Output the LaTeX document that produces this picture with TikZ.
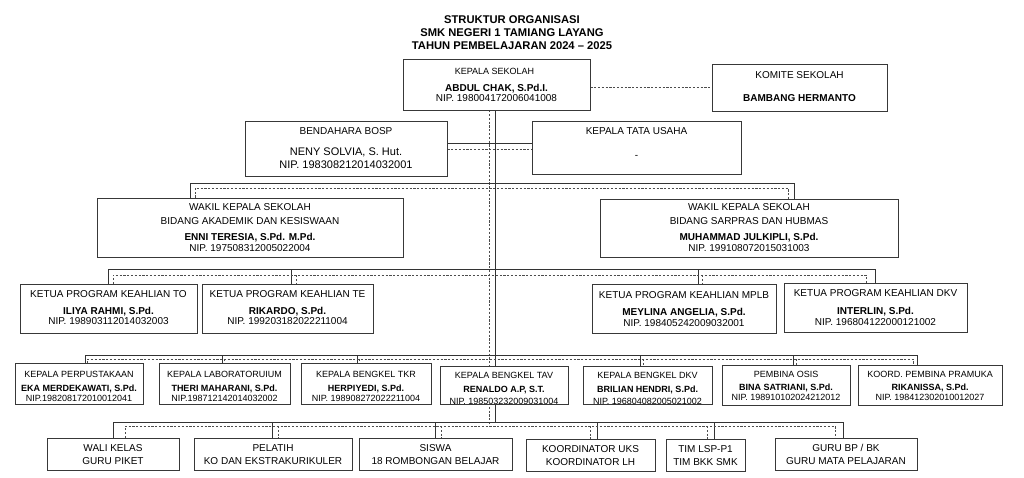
\documentclass[tikz,border=0pt]{standalone}
\usepackage{fontspec}
\setmainfont{Liberation Sans}
\usetikzlibrary{backgrounds}
\begin{document}
\begin{tikzpicture}[x=1pt,y=-1pt,
  box/.style={draw=black!78, line width=0.6pt, fill=white, inner sep=0pt},
  tA/.style={inner sep=0pt, anchor=center, font=\fontsize{9}{10}\selectfont, text height=6.4pt, text depth=0pt},
  tAb/.style={tA, font=\fontsize{9}{10}\selectfont\bfseries},
  tB/.style={inner sep=0pt, anchor=center, font=\fontsize{10}{11}\selectfont, text height=7.2pt, text depth=0pt},
  tBb/.style={tB, font=\fontsize{10}{11}\selectfont\bfseries},
  tC/.style={inner sep=0pt, anchor=center, font=\fontsize{11}{12}\selectfont, text height=7.9pt, text depth=0pt},
  ttl/.style={inner sep=0pt, anchor=center, font=\fontsize{11.2}{12}\selectfont\bfseries, text height=8pt, text depth=0pt},
  sol/.style={draw=black!80, line width=0.6pt},
  dsh/.style={draw=black!70, line width=0.55pt, dash pattern=on 2.2pt off 1.6pt}]
\useasboundingbox (0,0) rectangle (1024,478);

% title
\node[ttl] (ti1) at (512,20) {STRUKTUR ORGANISASI};
\node[ttl] (ti2) at (512,33) {SMK NEGERI 1 TAMIANG LAYANG};
\node[ttl] (ti3) at (512,46) {TAHUN PEMBELAJARAN 2024 – 2025};

% level 1
\node[box, minimum width=187pt, minimum height=51pt] (ks) at (496.5,84.5) {};
\node[tA] (ks1) at (494.5,71) {KEPALA SEKOLAH};
\node[tBb] (ks2) at (496.5,88) {ABDUL CHAK, S.Pd.I.};
\node[tB] (ks3) at (496.5,98) {NIP. 198004172006041008};

\node[box, minimum width=175pt, minimum height=47pt] (kom) at (799.5,87.5) {};
\node[tB] (kom1) at (799.5,75) {KOMITE SEKOLAH};
\node[tBb] (kom2) at (799.5,98) {BAMBANG HERMANTO};

% level 2
\node[box, minimum width=202pt, minimum height=55pt] (ben) at (346,148.5) {};
\node[tB] (ben1) at (346,131) {BENDAHARA BOSP};
\node[tC] (ben2) at (346,152) {NENY SOLVIA, S. Hut.};
\node[tC] (ben3) at (346,165) {NIP. 198308212014032001};

\node[box, minimum width=209pt, minimum height=53pt] (ktu) at (636.5,147.5) {};
\node[tB] (ktu1) at (636.5,131) {KEPALA TATA USAHA};
\node[tB] (ktu2) at (636.5,155) {-};

% level 3
\node[box, minimum width=306pt, minimum height=59pt] (wa) at (250,227.5) {};
\node[tB] (wa1) at (250,207) {WAKIL KEPALA SEKOLAH};
\node[tB] (wa2) at (250,221) {BIDANG AKADEMIK DAN KESISWAAN};
\node[tBb] (wa3) at (250,237) {ENNI TERESIA, S.Pd. M.Pd.};
\node[tB] (wa4) at (250,248) {NIP. 197508312005022004};

\node[box, minimum width=298pt, minimum height=58pt] (ws) at (749,228) {};
\node[tB] (ws1) at (749,207) {WAKIL KEPALA SEKOLAH};
\node[tB] (ws2) at (749,221) {BIDANG SARPRAS DAN HUBMAS};
\node[tBb] (ws3) at (749,237) {MUHAMMAD JULKIPLI, S.Pd.};
\node[tB] (ws4) at (749,248) {NIP. 199108072015031003};

% level 4
\node[box, minimum width=177pt, minimum height=49pt] (kto) at (108.5,308.5) {};
\node[tB] (kto1) at (108.5,294) {KETUA PROGRAM KEAHLIAN TO};
\node[tBb] (kto2) at (108.5,311) {ILIYA RAHMI, S.Pd.};
\node[tB] (kto3) at (108.5,321) {NIP. 198903112014032003};

\node[box, minimum width=171pt, minimum height=49pt] (kte) at (287.5,308.5) {};
\node[tB] (kte1) at (287.5,294) {KETUA PROGRAM KEAHLIAN TE};
\node[tBb] (kte2) at (287.5,311) {RIKARDO, S.Pd.};
\node[tB] (kte3) at (287.5,321) {NIP. 199203182022211004};

\node[box, minimum width=184pt, minimum height=49pt] (kmp) at (684,308.5) {};
\node[tB] (kmp1) at (684,295) {KETUA PROGRAM KEAHLIAN MPLB};
\node[tBb] (kmp2) at (684,312) {MEYLINA ANGELIA, S.Pd.};
\node[tB] (kmp3) at (684,323) {NIP. 198405242009032001};

\node[box, minimum width=183pt, minimum height=49pt] (kdk) at (875.5,307.5) {};
\node[tB] (kdk1) at (875.5,293) {KETUA PROGRAM KEAHLIAN DKV};
\node[tBb] (kdk2) at (875.5,311) {INTERLIN, S.Pd.};
\node[tB] (kdk3) at (875.5,322) {NIP. 196804122000121002};

% level 5
\node[box, minimum width=128pt, minimum height=41pt] (per) at (79,383.5) {};
\node[tA] (per1) at (79,374) {KEPALA PERPUSTAKAAN};
\node[tAb] (per2) at (79,388) {EKA MERDEKAWATI, S.Pd.};
\node[tA] (per3) at (79,398) {NIP.198208172010012041};

\node[box, minimum width=131pt, minimum height=41pt] (lab) at (224.5,383.5) {};
\node[tA] (lab1) at (224.5,374) {KEPALA LABORATORUIUM};
\node[tAb] (lab2) at (224.5,388) {THERI MAHARANI, S.Pd.};
\node[tA] (lab3) at (224.5,398) {NIP.198712142014032002};

\node[box, minimum width=130pt, minimum height=41pt] (tkr) at (366,383.5) {};
\node[tA] (tkr1) at (366,374) {KEPALA BENGKEL TKR};
\node[tAb] (tkr2) at (366,388) {HERPIYEDI, S.Pd.};
\node[tA] (tkr3) at (366,398) {NIP. 198908272022211004};

\node[box, minimum width=128pt, minimum height=38pt] (tav) at (504,385) {};
\node[tA] (tav1) at (504,375) {KEPALA BENGKEL TAV};
\node[tAb] (tav2) at (504,389) {RENALDO A.P, S.T.};
\begin{scope}
\clip (tav.north west) rectangle ([yshift=0.3pt]tav.south east);
\node[tA] (tav3) at (504,401.5) {NIP. 198503232009031004};
\end{scope}

\node[box, minimum width=129pt, minimum height=38pt] (dkv) at (647.5,385) {};
\node[tA] (dkv1) at (647.5,375) {KEPALA BENGKEL DKV};
\node[tAb] (dkv2) at (647.5,389) {BRILIAN HENDRI, S.Pd.};
\begin{scope}
\clip (dkv.north west) rectangle ([yshift=0.3pt]dkv.south east);
\node[tA] (dkv3) at (647.5,401.5) {NIP. 196804082005021002};
\end{scope}

\node[box, minimum width=128pt, minimum height=40pt] (osis) at (786,385) {};
\node[tA] (osis1) at (786,374) {PEMBINA OSIS};
\node[tAb] (osis2) at (786,387) {BINA SATRIANI, S.Pd.};
\node[tA] (osis3) at (786,397) {NIP. 198910102024212012};

\node[box, minimum width=144pt, minimum height=40pt] (pram) at (930,385) {};
\node[tA] (pram1) at (930,374) {KOORD. PEMBINA PRAMUKA};
\node[tAb] (pram2) at (930,387) {RIKANISSA, S.Pd.};
\node[tA] (pram3) at (930,397) {NIP. 198412302010012027};

% level 6
\node[box, minimum width=132pt, minimum height=32pt] (wali) at (113,454) {};
\node[tB] (wali1) at (113,448) {WALI KELAS};
\node[tB] (wali2) at (113,461) {GURU PIKET};

\node[box, minimum width=158pt, minimum height=32pt] (pel) at (273,454) {};
\node[tB] (pel1) at (273,448) {PELATIH};
\node[tB] (pel2) at (273,461) {KO DAN EKSTRAKURIKULER};

\node[box, minimum width=153pt, minimum height=32pt] (sis) at (435.5,454) {};
\node[tB] (sis1) at (435.5,448) {SISWA};
\node[tB] (sis2) at (435.5,461) {18 ROMBONGAN BELAJAR};

\node[box, minimum width=129pt, minimum height=32pt] (koo) at (590.5,455) {};
\node[tB] (koo1) at (590.5,449) {KOORDINATOR UKS};
\node[tB] (koo2) at (590.5,462) {KOORDINATOR LH};

\node[box, minimum width=79pt, minimum height=32pt] (tim) at (705.5,455) {};
\node[tB] (tim1) at (705.5,449) {TIM LSP-P1};
\node[tB] (tim2) at (705.5,462) {TIM BKK SMK};

\node[box, minimum width=142pt, minimum height=32pt] (guru) at (846,454) {};
\node[tB] (guru1) at (846,448) {GURU BP / BK};
\node[tB] (guru2) at (846,461) {GURU MATA PELAJARAN};

% connectors
\begin{pgfonlayer}{background}
\fill[white] (0,0) rectangle (1024,478);
% central spine
\coordinate (cs) at (495,422);
\coordinate (cd) at (489,426);
\draw[sol] (ks.south -| cs) -- (cs);
\draw[dsh] (ks.south -| cd) -- (cd);
% komite
\draw[dsh] (kom.west -| ks.east) -- (kom.west);
% bendahara - tata usaha
\coordinate (bk1) at (0,143);
\coordinate (bk2) at (0,149);
\draw[sol] (ben.east |- bk1) -- (ktu.west |- bk1);
\draw[dsh] (ben.east |- bk2) -- (ktu.west |- bk2);
% wakil
\coordinate (w1) at (190,183); \coordinate (w2) at (794,183);
\coordinate (w3) at (195,188); \coordinate (w4) at (788,188);
\draw[sol] (wa.north -| w1) -- (w1) -- (w2) -- (ws.north -| w2);
\draw[dsh] (wa.north -| w3) -- (w3) -- (w4) -- (ws.north -| w4);
% ketua program
\coordinate (r3a) at (108,269); \coordinate (r3b) at (875,269);
\coordinate (r3c) at (291,269); \coordinate (r3d) at (698,269);
\coordinate (r3e) at (113,275); \coordinate (r3f) at (866,275);
\coordinate (r3g) at (296,275); \coordinate (r3h) at (702,275);
\draw[sol] (kto.north -| r3a) -- (r3a) -- (r3b) -- (kdk.north -| r3b);
\draw[sol] (r3c) -- (kte.north -| r3c);
\draw[sol] (r3d) -- (kmp.north -| r3d);
\draw[dsh] (kto.north -| r3e) -- (r3e) -- (r3f) -- (kdk.north -| r3f);
\draw[dsh] (r3g) -- (kte.north -| r3g);
\draw[dsh] (r3h) -- (kmp.north -| r3h);
% kepala unit
\coordinate (r4a) at (85,355); \coordinate (r4b) at (917,355);
\coordinate (r4c) at (222,355); \coordinate (r4d) at (357,355);
\coordinate (r4e) at (640,355); \coordinate (r4f) at (793,355);
\coordinate (r4g) at (87,359); \coordinate (r4h) at (913,359);
\coordinate (r4i) at (224,359); \coordinate (r4j) at (359,359);
\coordinate (r4k) at (643,359); \coordinate (r4l) at (796,359);
\draw[sol] (per.north -| r4a) -- (r4a) -- (r4b) -- (pram.north -| r4b);
\draw[sol] (r4c) -- (lab.north -| r4c);
\draw[sol] (r4d) -- (tkr.north -| r4d);
\draw[sol] (r4e) -- (dkv.north -| r4e);
\draw[sol] (r4f) -- (osis.north -| r4f);
\draw[dsh] (per.north -| r4g) -- (r4g) -- (r4h) -- (pram.north -| r4h);
\draw[dsh] (r4i) -- (lab.north -| r4i);
\draw[dsh] (r4j) -- (tkr.north -| r4j);
\draw[dsh] (r4k) -- (dkv.north -| r4k);
\draw[dsh] (r4l) -- (osis.north -| r4l);
% bottom row
\coordinate (r5a) at (113,422); \coordinate (r5b) at (843,422);
\coordinate (r5c) at (272,422); \coordinate (r5d) at (435,422);
\coordinate (r5e) at (597,422); \coordinate (r5f) at (714,422);
\coordinate (r5g) at (125,426); \coordinate (r5h) at (835,426);
\coordinate (r5i) at (278,426); \coordinate (r5j) at (441,426);
\coordinate (r5k) at (590,426); \coordinate (r5l) at (707,426);
\draw[sol] (wali.north -| r5a) -- (r5a) -- (r5b) -- (guru.north -| r5b);
\draw[sol] (r5c) -- (pel.north -| r5c);
\draw[sol] (r5d) -- (sis.north -| r5d);
\draw[sol] (r5e) -- (koo.north -| r5e);
\draw[sol] (r5f) -- (tim.north -| r5f);
\draw[dsh] (wali.north -| r5g) -- (r5g) -- (r5h) -- (guru.north -| r5h);
\draw[dsh] (r5i) -- (pel.north -| r5i);
\draw[dsh] (r5j) -- (sis.north -| r5j);
\draw[dsh] (r5k) -- (koo.north -| r5k);
\draw[dsh] (r5l) -- (tim.north -| r5l);
\end{pgfonlayer}
\end{tikzpicture}
\end{document}
